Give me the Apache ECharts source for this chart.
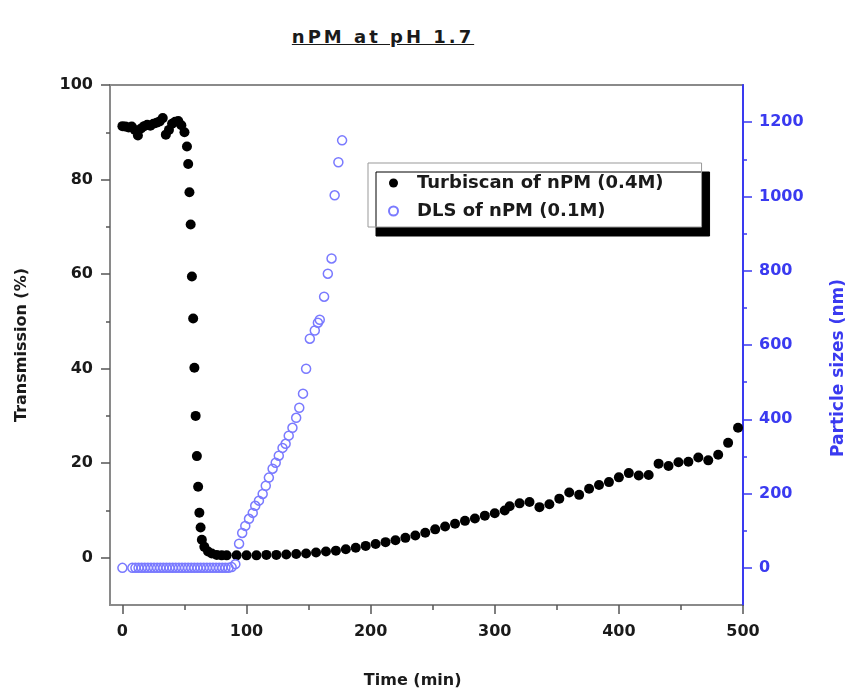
<!DOCTYPE html>
<html>
<head>
<meta charset="utf-8">
<title>nPM at pH 1.7</title>
<script src="https://cdn.jsdelivr.net/npm/echarts@6/dist/echarts.min.js"></script>
<style>
  body { margin: 0; background: #fff; }
  #title { position: absolute; left: 0; top: 26px; width: 766px; text-align: center;
           font: bold 18px 'DejaVu Sans', sans-serif; letter-spacing: 3px;
           text-decoration: underline; color: #1a1a1a; }
  #chart { width: 848px; height: 692px; }
</style>
</head>
<body>
<div id="title">nPM at pH 1.7</div>
<div id="chart"></div>
<script>
// Turbiscan transmission (%) vs time (min)
var turbTime = [0, 2.5, 5, 7.5, 10, 12.5, 15, 17.5, 20, 22.5, 25, 27.5, 30, 32.5, 35, 37.5, 40, 42.5, 45, 47.5, 50,
  52, 53, 54, 55, 56, 57, 58, 59, 60, 61, 62, 63, 64, 66, 69, 72, 76, 80,
  84, 92, 100, 108, 116, 124, 132, 140, 148, 156, 164, 172, 180, 188, 196, 204, 212, 220, 228, 236, 244,
  252, 260, 268, 276, 284, 292, 300, 308, 312, 320, 328, 336, 344, 352, 360, 368, 376, 384, 392, 400,
  408, 416, 424, 432, 440, 448, 456, 464, 472, 480, 488, 496];
var turbTrans = [91.3, 91.2, 91, 91.2, 90.5, 89.3, 90.8, 91.3, 91.6, 91.4, 91.8, 92, 92.3, 93, 89.5, 90.5, 91.8, 92.2, 92.4, 91.5, 90,
  87, 83.3, 77.3, 70.5, 59.5, 50.6, 40.2, 30, 21.5, 15, 9.5, 6.4, 3.8, 2.3, 1.3, 0.9, 0.6, 0.5,
  0.5, 0.5, 0.5, 0.5, 0.6, 0.6, 0.7, 0.8, 0.9, 1.1, 1.3, 1.5, 1.8, 2.1, 2.5, 2.9, 3.3, 3.7, 4.2, 4.7, 5.3,
  6.0, 6.6, 7.2, 7.8, 8.3, 8.9, 9.4, 10.0, 10.9, 11.5, 11.8, 10.7, 11.3, 12.5, 13.8, 13.3, 14.6, 15.4, 16.0, 17.0,
  17.9, 17.4, 17.5, 19.9, 19.4, 20.2, 20.3, 21.2, 20.6, 21.8, 24.3, 27.5];

// DLS particle size (nm) vs time (min)
var dlsTime = [0, 8, 10.5, 13, 15.5, 18, 20.5, 23, 25.5, 28, 30.5, 33, 35.5, 38, 40.5, 43, 45.5, 48, 50.5, 53,
  55.5, 58, 60.5, 63, 65.5, 68, 70.5, 73, 75.5, 78, 80.5, 83, 85.5, 88,
  91, 94, 96.5, 99, 102, 105, 107, 110, 113, 115.5, 118, 121, 123.5, 126, 129, 131.5, 134, 137, 140, 142.5,
  145.5, 148, 151, 155, 157.5, 159, 162.5, 165.5, 168.5, 171, 174, 177];
var dlsSize = [0, 0, 0, 0, 0, 0, 0, 0, 0, 0, 0, 0, 0, 0, 0, 0, 0, 0, 0, 0,
  0, 0, 0, 0, 0, 0, 0, 0, 0, 0, 0, 0, 0, 2,
  10, 65, 94, 113, 132, 148, 167, 181, 199, 221, 243, 267, 283, 302, 323, 334, 356, 377, 404, 431,
  469, 536, 617, 639, 660, 668, 730, 792, 833, 1003, 1092, 1151];

var turbName = 'Turbiscan of nPM (0.4M)';
var dlsName = 'DLS of nPM (0.1M)';

var W = 848, H = 692;
var L = 110, R = 743, T = 85, B = 605;   // plot frame
var xMin = -10, xMax = 500, yMin = -10, yMax = 100, rMin = -100, rMax = 1300;

function pos(v, a, b, p0, p1) { return p0 + (v - a) / (b - a) * (p1 - p0); }
var xZero = pos(0, xMin, xMax, L, R);
var yZero = pos(0, yMin, yMax, B, T);
var rZero = pos(0, rMin, rMax, B, T);
var rTop = pos(1200, rMin, rMax, B, T);

var FONT = 'DejaVu Sans';
var DARK = '#1a1a1a', BLUE = '#3a3af0', GRAY = '#8a8a8a';
var tickFont = { fontFamily: FONT, fontWeight: 'bold', fontSize: 16, color: DARK,
                 formatter: function (v) { return String(v); } };
var noLine = { show: false, onZero: false };

function zip(a, b) { return a.map(function (v, i) { return [v, b[i]]; }); }

var chart = echarts.init(document.getElementById('chart'));
chart.setOption({
  animation: false,
  grid: [
    { left: L, right: W - R, top: T, bottom: H - B, outerBoundsMode: 'none', containLabel: false,
      show: true, borderColor: GRAY, borderWidth: 2 },
    { left: xZero, right: W - R, top: T, bottom: H - B, outerBoundsMode: 'none', containLabel: false },
    { left: L, right: W - R, top: T, bottom: H - yZero, outerBoundsMode: 'none', containLabel: false },
    { left: L, right: W - R, top: rTop, bottom: H - rZero, outerBoundsMode: 'none', containLabel: false }
  ],
  xAxis: [
    { gridIndex: 0, type: 'value', min: xMin, max: xMax, show: false },
    { gridIndex: 1, type: 'value', position: 'bottom', min: 0, max: 500, interval: 100,
      axisLine: noLine,
      axisTick: { inside: false, length: 9, lineStyle: { color: '#555', width: 1.5 } },
      minorTick: { show: true, splitNumber: 2, length: 5, lineStyle: { color: '#555', width: 1.5 } },
      splitLine: { show: false },
      axisLabel: Object.assign({ margin: 19 }, tickFont),
      name: 'Time (min)', nameLocation: 'middle', nameGap: 68,
      nameTextStyle: { fontFamily: FONT, fontWeight: 'bold', fontSize: 16, color: DARK, padding: [0, 40, 0, 0] } },
    { gridIndex: 2, type: 'value', min: 0, max: 1, show: false },
    { gridIndex: 3, type: 'value', min: 0, max: 1, show: false }
  ],
  yAxis: [
    { gridIndex: 0, type: 'value', position: 'left', min: yMin, max: yMax,
      axisLine: noLine, axisTick: { show: false }, axisLabel: { show: false }, splitLine: { show: false },
      name: 'Transmission (%)', nameLocation: 'middle', nameGap: 80, nameRotate: 90,
      nameTextStyle: { fontFamily: FONT, fontWeight: 'bold', fontSize: 16, color: DARK } },
    { gridIndex: 0, type: 'value', position: 'right', min: rMin, max: rMax,
      axisLine: { show: true, onZero: false, lineStyle: { color: BLUE, width: 2 } },
      axisTick: { show: false }, axisLabel: { show: false }, splitLine: { show: false },
      name: 'Particle sizes (nm)', nameLocation: 'middle', nameGap: 87, nameRotate: 90,
      nameTextStyle: { fontFamily: FONT, fontWeight: 'bold', fontSize: 17, color: BLUE, padding: [0, 46, 0, 0] } },
    { gridIndex: 1, type: 'value', min: 0, max: 1, show: false },
    { gridIndex: 2, type: 'value', position: 'left', min: 0, max: 100, interval: 20,
      axisLine: noLine,
      axisTick: { inside: false, length: 9, lineStyle: { color: '#555', width: 1.5 } },
      minorTick: { show: true, splitNumber: 2, length: 4, lineStyle: { color: '#555', width: 1.5 } },
      splitLine: { show: false },
      axisLabel: Object.assign({ margin: 17 }, tickFont) },
    { gridIndex: 3, type: 'value', position: 'right', min: 0, max: 1200, interval: 200,
      axisLine: noLine,
      axisTick: { inside: false, length: 9, lineStyle: { color: BLUE, width: 1.5 } },
      minorTick: { show: true, splitNumber: 2, length: 4, lineStyle: { color: BLUE, width: 1.5 } },
      splitLine: { show: false },
      axisLabel: Object.assign({}, tickFont, { margin: 16, color: BLUE }) }
  ],
  legend: {
    data: [turbName, dlsName],
    orient: 'vertical', left: 368, top: 163,
    padding: [11, 38, 7, 20], itemGap: 10, itemWidth: 9, itemHeight: 9,
    backgroundColor: '#fff', borderColor: '#999', borderWidth: 1,
    shadowColor: '#000', shadowOffsetX: 8, shadowOffsetY: 9, shadowBlur: 0,
    formatter: function (name) { return '{t|' + name + '}'; },
    textStyle: {
      rich: { t: { fontFamily: FONT, fontWeight: 'bold', fontSize: 18, color: DARK, padding: [0, 0, 0, 14] } }
    }
  },
  series: [
    { type: 'scatter', name: turbName, xAxisIndex: 0, yAxisIndex: 0,
      data: zip(turbTime, turbTrans), symbol: 'circle', symbolSize: 10,
      itemStyle: { color: '#000', opacity: 1 }, z: 2 },
    { type: 'scatter', name: dlsName, xAxisIndex: 0, yAxisIndex: 1,
      data: zip(dlsTime, dlsSize), symbol: 'circle', symbolSize: 9,
      itemStyle: { color: 'rgba(255,255,255,0)', borderColor: '#7a7aff', borderWidth: 1.5, opacity: 1 }, z: 3 }
  ]
});
</script>
</body>
</html>
